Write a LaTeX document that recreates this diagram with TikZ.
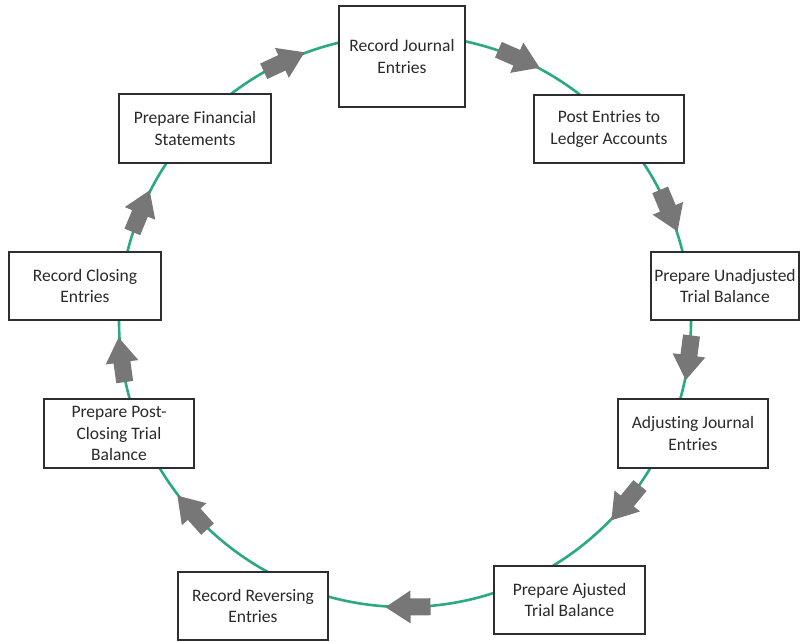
\documentclass[tikz,border=0pt]{standalone}
\usepackage{fontspec}
\setmainfont{Carlito}[Ligatures=NoCommon]
\definecolor{ringgreen}{HTML}{2AA983}
\definecolor{arrowgray}{HTML}{777777}
\definecolor{boxline}{HTML}{2E2E2E}
\definecolor{textgray}{HTML}{2A2A2A}
\begin{document}
\begin{tikzpicture}[x=1pt,y=1pt,
  stage/.style={draw=boxline, line width=1.8pt, fill=white, align=center,
    inner sep=0pt, text=textgray, font=\fontsize{17.5}{21.5}\selectfont},
  ring/.style={draw=ringgreen, line width=2.6pt},
  flow/.pic={\fill[arrowgray] (-22.5,-8.5) -- (-2.5,-8.5) -- (-2.5,-16.5)
    -- (22.5,0) -- (-2.5,16.5) -- (-2.5,8.5) -- (-22.5,8.5) -- cycle;}
]
\useasboundingbox (0,0) rectangle (801,641);

% the accounting cycle ring
\coordinate (c) at (405,320);
\draw[ring] (c) circle[radius=286];

% stages of the cycle
\node[stage, minimum width=126, minimum height=101] (journal) at (402,584.5)
  {Record Journal\\Entries};
\node[stage, minimum width=150, minimum height=68] (ledger) at (609,512)
  {Post Entries to\\Ledger Accounts};
\node[stage, minimum width=148, minimum height=68] (unadj) at (725,355)
  {Prepare Unadjusted\\Trial Balance};
\node[stage, minimum width=150, minimum height=69] (adjust) at (693,207.5)
  {Adjusting Journal\\Entries};
\node[stage, minimum width=151, minimum height=68] (adjtb) at (569.5,41)
  {Prepare Ajusted\\Trial Balance};
\node[stage, minimum width=150, minimum height=68] (reverse) at (253,35)
  {Record Reversing\\Entries};
\node[stage, minimum width=150, minimum height=69] (postclose) at (119,207.5)
  {Prepare Post-\\Closing Trial\\Balance};
\node[stage, minimum width=152, minimum height=68] (closing) at (85,355)
  {Record Closing\\Entries};
\node[stage, minimum width=152, minimum height=69] (fin) at (195,512.5)
  {Prepare Financial\\Statements};

% clockwise flow arrows along the ring
\foreach \a in {66.5, 22.7, -7.4, -39.5, -89.4, 222, 187.8, 157.4, 115}{
  \path (c) ++(\a:286) pic[rotate=\a-90] {flow};
}
\end{tikzpicture}
\end{document}
